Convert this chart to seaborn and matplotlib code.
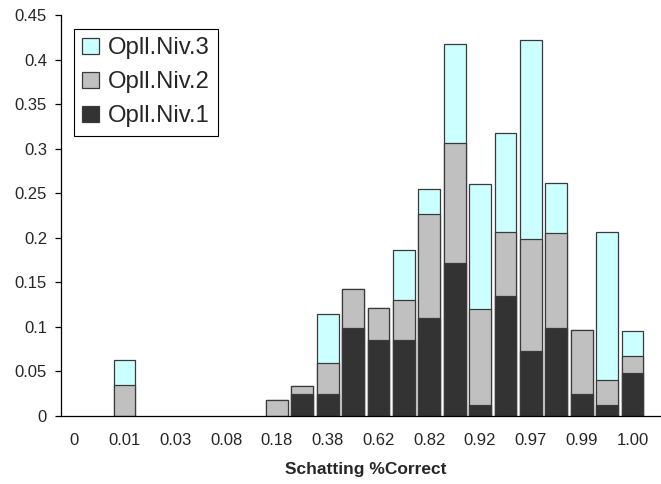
import matplotlib
matplotlib.use("Agg")
import matplotlib.pyplot as plt
import seaborn as sns
import pandas as pd
import numpy as np
from matplotlib.ticker import FixedLocator, FuncFormatter

# Share of estimates per "Schatting %Correct" bin, split by education level
tick_labels = ["0", "0.01", "0.03", "0.08", "0.18", "0.38",
               "0.62", "0.82", "0.92", "0.97", "0.99", "1.00"]
niv1 = [0, 0, 0, 0, 0, 0, 0, 0, 0, 0.025, 0.025, 0.099, 0.085, 0.085,
        0.110, 0.172, 0.012, 0.135, 0.0735, 0.099, 0.025, 0.012, 0.048]
niv2 = [0, 0, 0.035, 0, 0, 0, 0, 0, 0.018, 0.009, 0.035, 0.043, 0.036, 0.045,
        0.117, 0.134, 0.108, 0.071, 0.125, 0.106, 0.071, 0.028, 0.019]
niv3 = [0, 0, 0.028, 0, 0, 0, 0, 0, 0, 0, 0.055, 0, 0, 0.056,
        0.028, 0.112, 0.140, 0.112, 0.223, 0.057, 0, 0.167, 0.028]
colors = {"Opll.Niv.1": "#333333", "Opll.Niv.2": "#C0C0C0", "Opll.Niv.3": "#CCFFFF"}

n = len(niv1)
df = pd.DataFrame({"bin": np.arange(n), "n1": niv1, "n2": niv2, "n3": niv3})
df["c1"] = df["n1"]
df["c2"] = df["n1"] + df["n2"]
df["c3"] = df["c2"] + df["n3"]
# empty bins get no bar at all (avoids outlines lying on the axis)
for c in ["c1", "c2", "c3"]:
    df[c] = df[c].where(df[c] > 0)

sns.set_style("white")
plt.rcParams["font.family"] = ["Liberation Sans", "DejaVu Sans"]

fig = plt.figure(figsize=(6.61, 4.84), dpi=100)
W, H = 661, 484
x0, y0, ytop, step = 61, 416, 15, 25.4
ax = fig.add_axes([x0 / W, (H - y0) / H, 24 * step / W, (y0 - ytop) / H])

order = list(range(n))
# stacked look: draw cumulative totals from the tallest layer down
for col, name in [("c3", "Opll.Niv.3"), ("c2", "Opll.Niv.2"), ("c1", "Opll.Niv.1")]:
    sns.barplot(data=df, x="bin", y=col, order=order, color=colors[name],
                saturation=1, width=0.86, edgecolor="#3a3a3a", linewidth=0.9,
                label=name, ax=ax)

ax.set_xlim(-0.5, 23.5)
ax.set_ylim(0, 0.45)
ax.set_yticks(np.arange(0, 0.451, 0.05))
ax.yaxis.set_major_formatter(FuncFormatter(lambda v, p: f"{v:.2f}".rstrip("0").rstrip(".") if v else "0"))

ax.xaxis.set_major_locator(FixedLocator(list(range(0, n, 2))))
ax.set_xticklabels(tick_labels)
ax.xaxis.set_minor_locator(FixedLocator(list(np.arange(-0.5, 24, 1.0))))
ax.tick_params(axis="x", which="major", length=0, pad=12, labelsize=12)
ax.tick_params(axis="x", which="minor", length=5, width=0.9, color="black", direction="out")
ax.tick_params(axis="y", length=4, width=0.9, color="black", direction="out", pad=6, labelsize=12)
ax.tick_params(axis="both", bottom=True, left=True)

sns.despine(ax=ax, top=True, right=True)
for s in ["left", "bottom"]:
    ax.spines[s].set_color("black")
    ax.spines[s].set_linewidth(0.9)

ax.set_ylabel("")
ax.set_xlabel("Schatting %Correct", fontsize=12.5, fontweight="bold")
ax.xaxis.set_label_coords((366 - x0) / (24 * step), -0.115)

leg = ax.legend(loc="upper left", bbox_to_anchor=((74 - x0) / (24 * step), (y0 - 29) / (y0 - ytop)),
                borderaxespad=0, fontsize=17.2, fancybox=False, framealpha=1,
                edgecolor="black", handlelength=0.7, handleheight=0.7,
                handletextpad=0.35, labelspacing=0.5, borderpad=0.35)
leg.get_frame().set_linewidth(0.8)

fig.savefig("out.png", dpi=100)
